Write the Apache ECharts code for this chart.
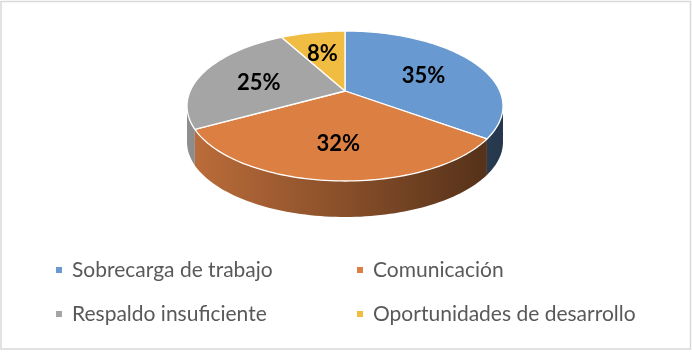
<!DOCTYPE html>
<html>
<head>
<meta charset="utf-8">
<script src="https://cdn.jsdelivr.net/npm/echarts@6/dist/echarts.min.js"></script>
<style>
  html, body { margin: 0; padding: 0; background: #fff; }
  #chart { width: 692px; height: 352px; }
</style>
</head>
<body>
<div id="chart"></div>
<script>
const categories = ['Sobrecarga de trabajo', 'Comunicación', 'Respaldo insuficiente', 'Oportunidades de desarrollo']
const values = [35, 32, 25, 8]
const colors = ['#6899d0', '#dc7f43', '#a5a5a5', '#f1bc42']

// ellipse geometry of the tilted pie (screen px)
const CX = 345, CY = 106, RX = 158, RY = 75
const D = 0.2        // perspective shift of the pie centre
const DEPTH = 36     // thickness of the side wall
const total = values.reduce((a, b) => a + b, 0)

// true angle (deg, clockwise from top) + radius -> screen point
function proj(theta, r) {
  const a = theta * Math.PI / 180
  const x = r * Math.sin(a), y = r * Math.cos(a)
  const den = 1 + D * y
  const xp = x * Math.sqrt(1 - D * D) / den
  const yp = (y + D) / den
  return [CX + RX * xp, CY - RY * yp]
}

function shade(hex, k) {
  const n = parseInt(hex.slice(1), 16)
  const r = Math.round(((n >> 16) & 255) * k)
  const g = Math.round(((n >> 8) & 255) * k)
  const b = Math.round((n & 255) * k)
  return `rgb(${r},${g},${b})`
}

const starts = []
let acc = 0
for (const v of values) { starts.push(acc / total * 360); acc += v }

const frontA = Math.acos(-D) * 180 / Math.PI
const frontB = 360 - frontA

function arc(t0, t1, r) {
  const pts = []
  const n = Math.max(2, Math.ceil((t1 - t0) / 1.5))
  for (let k = 0; k <= n; k++) pts.push(proj(t0 + (t1 - t0) * k / n, r))
  return pts
}

function sliceSeries(i) {
  return {
    name: categories[i],
    type: 'custom',
    coordinateSystem: 'none',
    itemStyle: { color: colors[i] },
    data: [values[i]],
    silent: true,
    renderItem: function () {
      const t0 = starts[i]
      const t1 = t0 + values[i] / total * 360
      const children = []
      // side wall (only the front half is visible)
      const s0 = Math.max(t0, frontA), s1 = Math.min(t1, frontB)
      if (s1 > s0) {
        const top = arc(s0, s1, 1)
        const bottom = top.slice().reverse().map(p => [p[0], p[1] + DEPTH])
        children.push({
          type: 'polygon',
          shape: { points: top.concat(bottom) },
          style: {
            fill: new echarts.graphic.LinearGradient(CX - RX, 0, CX + RX, 0, [
              { offset: 0, color: shade(colors[i], 0.86) },
              { offset: 0.5, color: shade(colors[i], 0.62) },
              { offset: 1, color: shade(colors[i], 0.36) }
            ], true),
            stroke: null
          }
        })
      }
      // top face
      const face = [proj(0, 0)].concat(arc(t0, t1, 1))
      children.push({
        type: 'polygon',
        shape: { points: face },
        style: { fill: colors[i], stroke: '#ffffff', lineWidth: 1.3, lineJoin: 'round' }
      })
      const lp = proj((t0 + t1) / 2, values[i] / total < 0.12 ? 0.66 : 0.6)
      children.push({
        type: 'text',
        x: lp[0],
        y: lp[1] + 4,
        z2: 10,
        style: {
          text: Math.round(values[i] / total * 100) + '%',
          fill: '#000000',
          font: 'bold 22px Lato',
          textAlign: 'center',
          textVerticalAlign: 'middle',
          align: 'center',
          verticalAlign: 'middle'
        }
      })
      return { type: 'group', children: children }
    }
  }
}

const legendBase = {
  orient: 'vertical',
  top: 258,
  padding: 0,
  icon: 'rect',
  itemWidth: 6,
  itemHeight: 6,
  itemGap: 20,
  selectedMode: false,
  textStyle: { color: '#595959', fontSize: 21, fontFamily: 'Lato', lineHeight: 24, padding: [0, 0, 0, 5] }
}

const chart = echarts.init(document.getElementById('chart'), null, { renderer: 'canvas' })
chart.setOption({
  animation: false,
  color: colors,
  legend: [
    Object.assign({}, legendBase, { left: 56, data: [categories[0], categories[2]] }),
    Object.assign({}, legendBase, { left: 357, data: [categories[1], categories[3]] })
  ],
  graphic: [{
    type: 'rect',
    shape: { x: 1, y: 1.5, width: 689.5, height: 347.5 },
    style: { fill: null, stroke: '#d9d9d9', lineWidth: 1.5 },
    silent: true
  }],
  series: [sliceSeries(0), sliceSeries(1), sliceSeries(2), sliceSeries(3)]
})
</script>
</body>
</html>
